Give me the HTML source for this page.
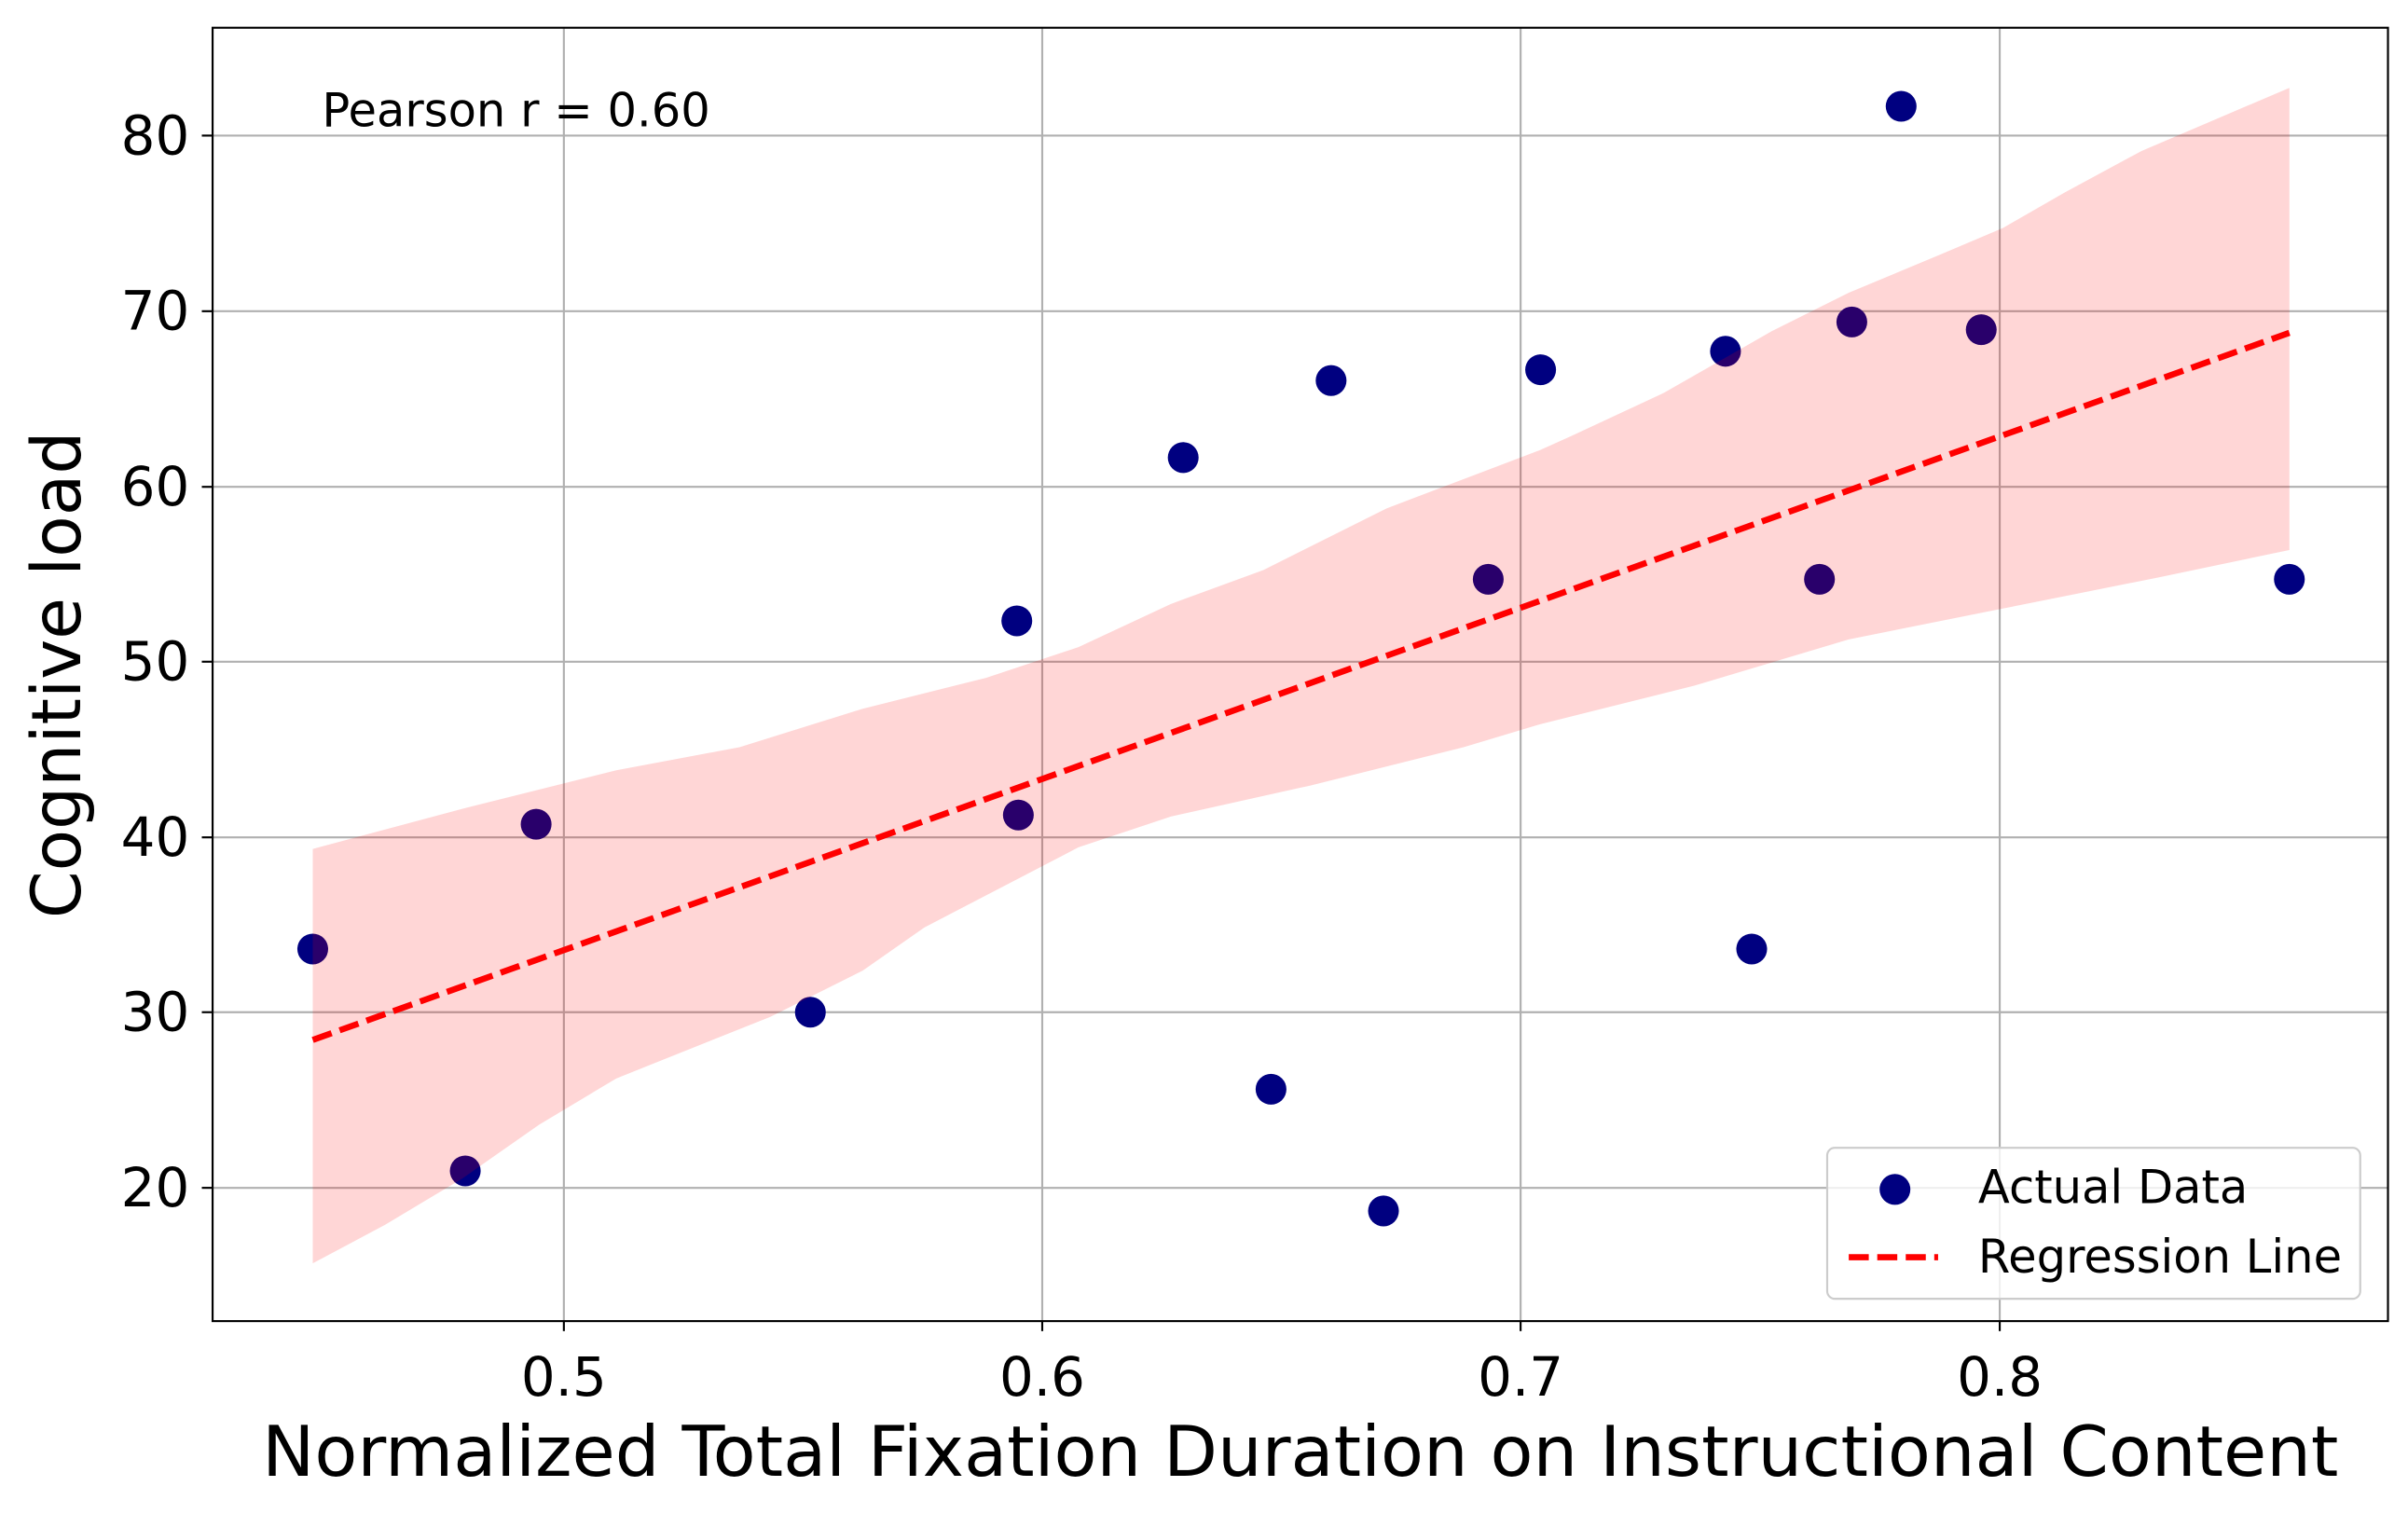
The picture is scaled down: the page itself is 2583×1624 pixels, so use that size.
<!DOCTYPE html>
<html><head><meta charset="utf-8"><style>html,body{margin:0;padding:0;background:#fff}svg{display:block}</style></head>
<body>
<svg width="2583" height="1624" viewBox="0 0 1563 982.7" xmlns="http://www.w3.org/2000/svg" font-family="'DejaVu Sans','Liberation Sans',sans-serif">
<rect width="1563" height="983" fill="#fff"/>
<g stroke="#b0b0b0" stroke-width="1.3">
<line x1="366" y1="18" x2="366" y2="857"/><line x1="676.5" y1="18" x2="676.5" y2="857"/><line x1="987" y1="18" x2="987" y2="857"/><line x1="1298" y1="18" x2="1298" y2="857"/>
<line x1="138" y1="88" x2="1550" y2="88"/><line x1="138" y1="202" x2="1550" y2="202"/><line x1="138" y1="316" x2="1550" y2="316"/><line x1="138" y1="429.5" x2="1550" y2="429.5"/><line x1="138" y1="543.5" x2="1550" y2="543.5"/><line x1="138" y1="657" x2="1550" y2="657"/><line x1="138" y1="771" x2="1550" y2="771"/>
</g>
<g fill="#000080">
<circle cx="203" cy="616" r="10"/><circle cx="302" cy="760" r="10"/><circle cx="348" cy="535" r="10"/><circle cx="526" cy="657" r="10"/><circle cx="660" cy="403" r="10"/><circle cx="661" cy="529" r="10"/><circle cx="768" cy="297" r="10"/><circle cx="825" cy="707" r="10"/><circle cx="864" cy="247" r="10"/><circle cx="898" cy="786" r="10"/><circle cx="966" cy="376" r="10"/><circle cx="1000" cy="240" r="10"/><circle cx="1120" cy="228" r="10"/><circle cx="1137" cy="616" r="10"/><circle cx="1181" cy="376" r="10"/><circle cx="1202" cy="209" r="10"/><circle cx="1234" cy="69" r="10"/><circle cx="1286" cy="214" r="10"/><circle cx="1486" cy="376" r="10"/>
</g>
<path d="M203,551 L300,525 L400,500 L480,485 L560,460 L640,440 L700,420 L760,392 L820,370 L900,330 L1000,292 L1020,283 L1080,255 L1150,215 L1200,190 L1260,165 L1300,148 L1340,125 L1390,98 L1486,57 L1486,357 L1400,375 L1300,395 L1200,415 L1100,445 L1000,470 L950,485 L850,510 L760,530 L700,550 L600,602 L560,630 L500,660 L450,680 L400,700 L350,730 L300,765 L250,795 L203,820 Z" fill="#ff0000" fill-opacity="0.16"/>
<line x1="203" y1="675" x2="1486" y2="216" stroke="#ff0000" stroke-width="4" stroke-dasharray="13,5.5"/>
<rect x="138" y="18" width="1412" height="839.5" fill="none" stroke="#000" stroke-width="1.3"/>
<g stroke="#000" stroke-width="1.3">
<line x1="366" y1="857.5" x2="366" y2="864"/><line x1="676.5" y1="857.5" x2="676.5" y2="864"/><line x1="987" y1="857.5" x2="987" y2="864"/><line x1="1298" y1="857.5" x2="1298" y2="864"/>
<line x1="131" y1="88" x2="138" y2="88"/><line x1="131" y1="202" x2="138" y2="202"/><line x1="131" y1="316" x2="138" y2="316"/><line x1="131" y1="429.5" x2="138" y2="429.5"/><line x1="131" y1="543.5" x2="138" y2="543.5"/><line x1="131" y1="657" x2="138" y2="657"/><line x1="131" y1="771" x2="138" y2="771"/>
</g>
<g font-size="35" fill="#000" text-anchor="middle">
<text x="366" y="906">0.5</text><text x="676.5" y="906">0.6</text><text x="987" y="906">0.7</text><text x="1298" y="906">0.8</text>
</g>
<g font-size="35" fill="#000" text-anchor="end">
<text x="123" y="100">80</text><text x="123" y="214">70</text><text x="123" y="328">60</text><text x="123" y="441.5">50</text><text x="123" y="555.5">40</text><text x="123" y="669">30</text><text x="123" y="783">20</text>
</g>
<text x="844" y="958" font-size="45.5" text-anchor="middle">Normalized Total Fixation Duration on Instructional Content</text>
<text transform="translate(52,438) rotate(-90)" font-size="44" text-anchor="middle">Cognitive load</text>
<text x="209" y="82" font-size="30">Pearson r = 0.60</text>
<rect x="1186" y="745" width="346" height="98" rx="5" fill="#fff" fill-opacity="0.8" stroke="#cccccc" stroke-width="1.3"/>
<circle cx="1230" cy="772" r="10" fill="#000080"/>
<text x="1284" y="781" font-size="30">Actual Data</text>
<line x1="1200" y1="816" x2="1258" y2="816" stroke="#ff0000" stroke-width="4" stroke-dasharray="13,5.5"/>
<text x="1284" y="826" font-size="30">Regression Line</text>
</svg>
</body></html>
